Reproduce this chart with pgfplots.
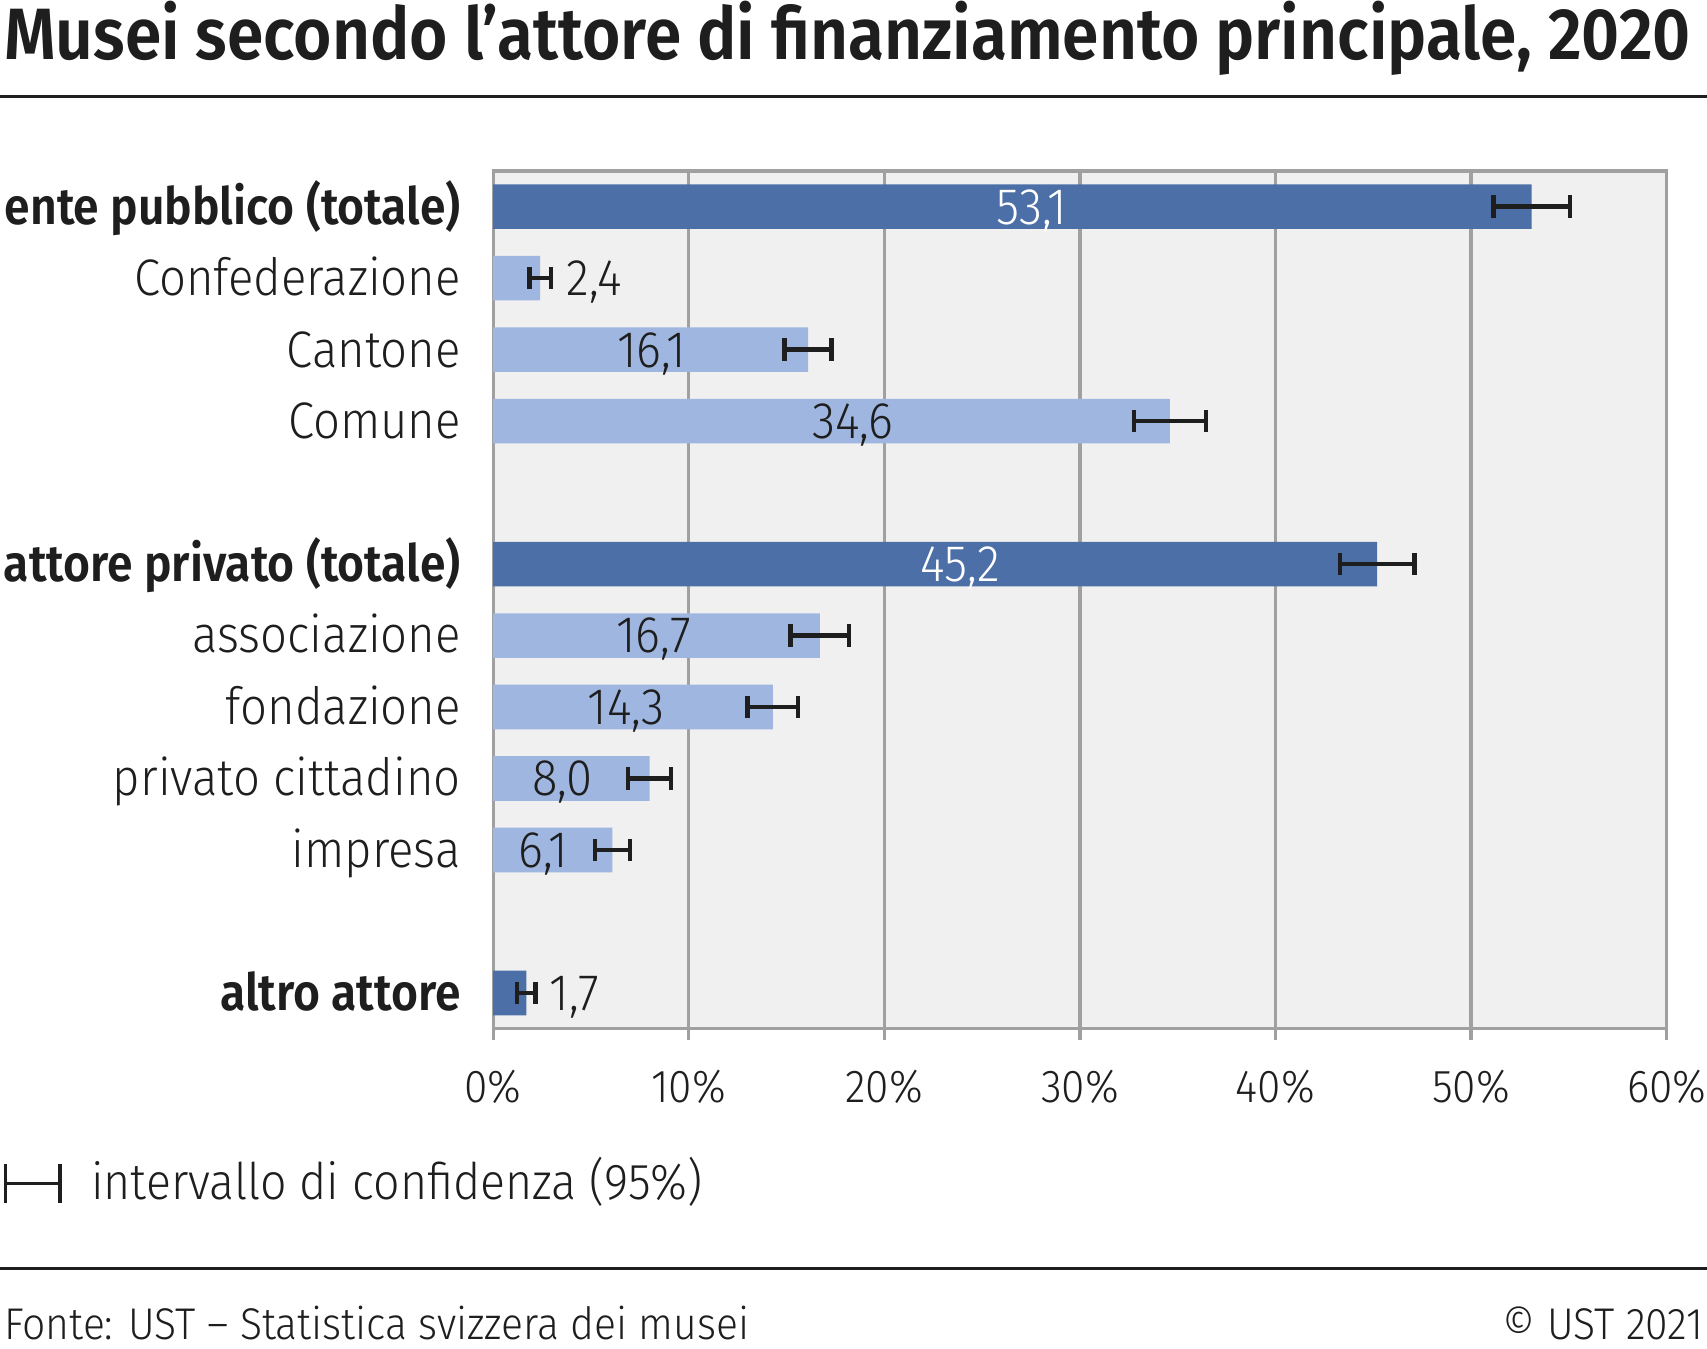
\documentclass[border=0pt]{standalone}
\usepackage{fontspec}
\setmainfont{Fira Sans}[UprightFont=* Light, BoldFont=* SemiBold, FakeStretch=0.92]
\newfontfamily\titlefont{Fira Sans}[UprightFont=* SemiBold, FakeStretch=0.905]
\newfontfamily\catbold{Fira Sans}[UprightFont=* SemiBold, FakeStretch=0.90]
\usepackage{pgfplots}
\pgfplotsset{compat=1.18}
\definecolor{darkbar}{HTML}{4B6FA6}
\definecolor{lightbar}{HTML}{9FB7E0}
\definecolor{bgc}{HTML}{F0F0F0}
\definecolor{gridc}{HTML}{A0A0A0}
\definecolor{txt}{HTML}{1E1E1E}

\pgfplotstableread{
row val err
0 53.1 1.95
5 45.2 1.9
11 1.7 0.47
}\darkdata
\pgfplotstableread{
row val err
1 2.4 0.55
2 16.1 1.2
3 34.6 1.85
6 16.7 1.5
7 14.3 1.3
8 8.0 1.1
9 6.1 0.9
}\lightdata
\pgfplotstableread{
row pos lab
0 27.55 53,1
5 23.9 45,2
}\labwhite
\pgfplotstableread{
row pos lab
2 8.1 16,1
3 18.4 34,6
6 8.2 16,7
7 6.8 14,3
8 3.55 8,0
9 2.55 6,1
}\labdark
\pgfplotstableread{
row pos lab
1 3.73 2,4
11 2.84 1,7
}\labout

\begin{document}
\begin{tikzpicture}
\path[use as bounding box] (0,0) rectangle (392pt,309.75pt);
% title
\node[anchor=base west, inner sep=0pt, text=txt] at (0.75pt,296pt)
  {\titlefont\fontsize{16.7pt}{20pt}\selectfont Musei secondo l’attore di finanziamento principale, 2020};
\draw[txt, line width=0.75pt] (0,287.5pt) -- (392pt,287.5pt);

\begin{axis}[
  at={(113.25pt,73.5pt)}, anchor=south west,
  scale only axis, width=269.5pt, height=197pt,
  xmin=0, xmax=60, ymin=-0.5, ymax=11.5, y dir=reverse,
  axis background/.style={fill=bgc},
  axis line style={draw=gridc, line width=0.75pt},
  xtick={0,10,...,60},
  xticklabel={\pgfmathprintnumber{\tick}\%},
  /pgf/number format/assume math mode=true,
  xmajorgrids, grid style={gridc, line width=0.75pt},
  xtick pos=bottom, tick align=outside,
  major tick length=2.5pt,
  x tick style={gridc, line width=0.75pt},
  x tick label style={font=\fontsize{10.6pt}{12pt}\selectfont, text=txt, anchor=base, inner sep=0pt, yshift=-14.5pt},
  ytick={0,1,2,3,5,6,7,8,9,11},
  yticklabels={{\catbold ente pubblico (totale)},Confederazione,Cantone,Comune,{\catbold attore privato (totale)},associazione,fondazione,privato cittadino,impresa,{\catbold altro attore}},
  y tick style={draw=none},
  y tick label style={font=\fontsize{11.8pt}{14pt}\selectfont, text=txt, anchor=base east, inner sep=0pt, xshift=-4.75pt, yshift=-4pt},
  clip=false,
  error bars/error bar style={txt, line width=1pt},
  error bars/error mark options={txt, line width=1pt, mark size=2.6pt, rotate=90},
]
\addplot[xbar, bar width=10.25pt, fill=darkbar, draw=none,
  error bars/.cd, x dir=both, x explicit]
  table[x=val, y=row, x error=err] {\darkdata};
\addplot[xbar, bar width=10.25pt, fill=lightbar, draw=none,
  error bars/.cd, x dir=both, x explicit]
  table[x=val, y=row, x error=err] {\lightdata};
\addplot[only marks, mark=none, point meta=explicit symbolic,
  nodes near coords, nodes near coords style={anchor=base, inner sep=0pt, yshift=-4pt, text=white, font=\fontsize{11.8pt}{14pt}\selectfont}]
  table[x=pos, y=row, meta=lab] {\labwhite};
\addplot[only marks, mark=none, point meta=explicit symbolic,
  nodes near coords, nodes near coords style={anchor=base, inner sep=0pt, yshift=-4pt, text=txt, font=\fontsize{11.8pt}{14pt}\selectfont}]
  table[x=pos, y=row, meta=lab] {\labdark};
\addplot[only marks, mark=none, point meta=explicit symbolic,
  nodes near coords, nodes near coords style={anchor=base west, inner sep=0pt, yshift=-4pt, text=txt, font=\fontsize{11.8pt}{14pt}\selectfont}]
  table[x=pos, y=row, meta=lab] {\labout};
\end{axis}

% legend
\draw[txt, line width=0.8pt] (1.25pt,38pt) -- (13.75pt,38pt);
\draw[txt, line width=0.8pt] (1.25pt,33.5pt) -- (1.25pt,42.5pt);
\draw[txt, line width=0.8pt] (13.75pt,33.5pt) -- (13.75pt,42.5pt);
\node[anchor=base west, inner sep=0pt, text=txt] at (20.75pt,34.25pt)
  {\fontsize{11.6pt}{14pt}\selectfont intervallo di confidenza (95\%)};
% footer
\draw[txt, line width=0.75pt] (0,18.5pt) -- (392pt,18.5pt);
\node[anchor=base west, inner sep=0pt, text=txt] at (0.75pt,2.25pt)
  {\fontsize{10.2pt}{12pt}\selectfont Fonte: UST – Statistica svizzera dei musei};
\node[anchor=base east, inner sep=0pt, text=txt] at (391.25pt,2.25pt)
  {\fontsize{10.2pt}{12pt}\selectfont © UST 2021};
\end{tikzpicture}
\end{document}
